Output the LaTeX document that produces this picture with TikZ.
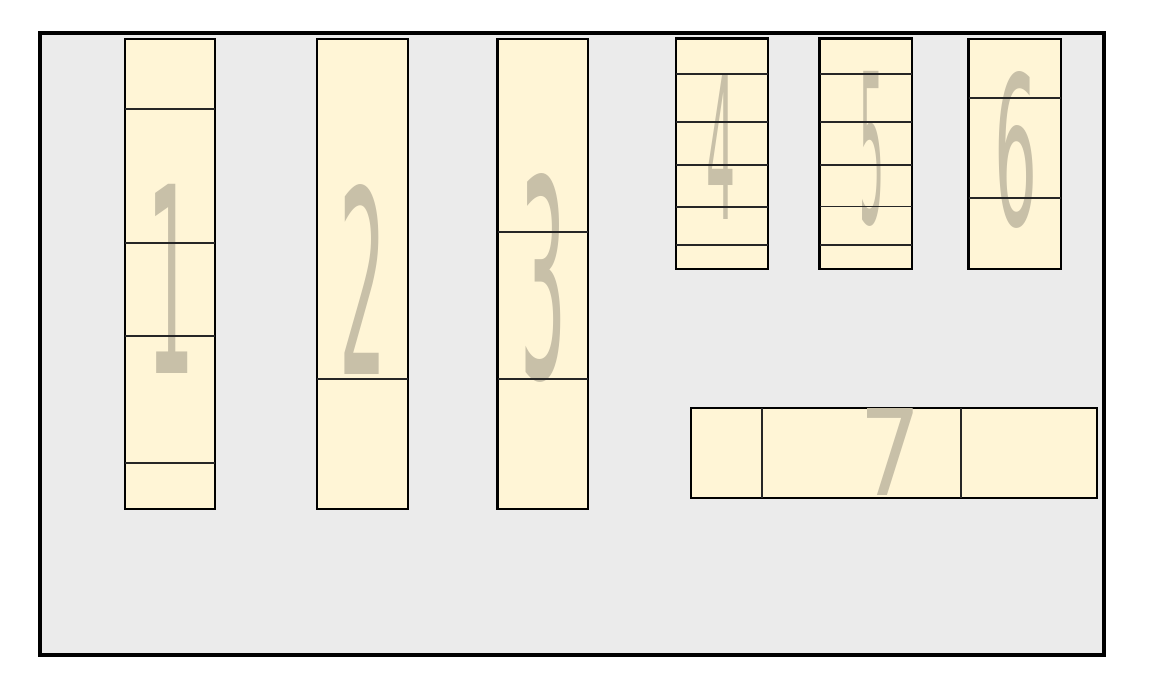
\documentclass[tikz,border=0pt]{standalone}
\usepackage{fontspec}
\usepackage{graphicx}
\newfontfamily\digitfont{DejaVu Sans}
\definecolor{bggray}{RGB}{235,235,235}
\definecolor{boxfill}{RGB}{255,245,214}
\definecolor{digitcol}{RGB}{200,192,168}
\tikzset{
  frame/.style={draw=black,line width=4pt,fill=bggray},
  cab/.style={draw=black,line width=2.5pt,fill=boxfill},
  divider/.style={draw=black!85,line width=1.3pt},
  digit/.style={inner sep=0pt,outer sep=0pt,text=digitcol}
}
\newcommand{\bigdigit}[3]{\resizebox{#1pt}{#2pt}{\digitfont #3}}
\begin{document}
\begin{tikzpicture}[x=1pt,y=-1pt]
\useasboundingbox (0,0) rectangle (1149,699);
\path[frame] (39.5,32.5) rectangle (1104,655);
% box 1
\path[cab] (125,39) rectangle (215,509);
\node[digit] (d1) at (171,278.5) {\bigdigit{47}{189}{1}};
\foreach \yy in {109,243,336,463} \draw[divider] (125,\yy) -- (215,\yy);
% box 2
\path[cab] (317,39) rectangle (408,509);
\node[digit] (d2) at (363,279) {\bigdigit{47}{190}{2}};
\draw[divider] (317,379) -- (408,379);
% box 3
\path[cab] (497.5,39) rectangle (588,509);
\node[digit] (d3) at (544,277.5) {\bigdigit{46}{205}{3}};
\foreach \yy in {232,379} \draw[divider] (497.5,\yy) -- (588,\yy);
% box 4
\path[cab] (676,38.5) rectangle (768,269);
\node[digit] (d4) at (721,147) {\bigdigit{29}{144}{4}};
\foreach \yy in {74,122,165,207,245} \draw[divider] (676,\yy) -- (768,\yy);
% box 5
\path[cab] (819.5,38.5) rectangle (912,269);
\node[digit] (d5) at (872,149) {\bigdigit{25}{152}{5}};
\foreach \yy in {74,122,165,206.5,245} \draw[divider] (819.5,\yy) -- (912,\yy);
% box 6
\path[cab] (968.5,39) rectangle (1061,269);
\node[digit] (d6) at (1016,150) {\bigdigit{43}{154}{6}};
\foreach \yy in {98,198} \draw[divider] (968.5,\yy) -- (1061,\yy);
% box 7
\path[cab] (691,408) rectangle (1097,498);
\node[digit] (d7) at (891,451.5) {\bigdigit{62}{87}{7}};
\foreach \xx in {762,961} \draw[divider] (\xx,408) -- (\xx,498);
\end{tikzpicture}
\end{document}
